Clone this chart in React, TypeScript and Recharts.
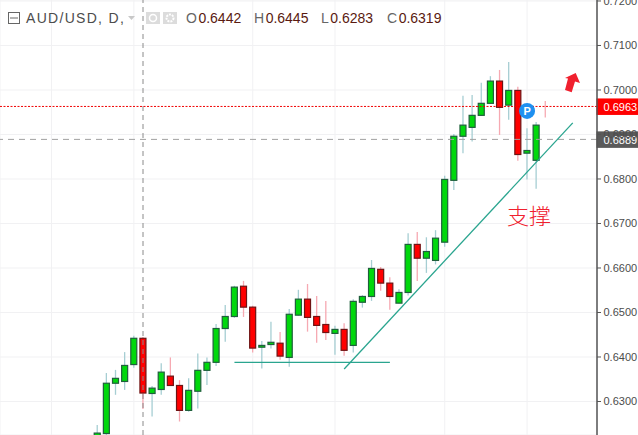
import { ComposedChart, Bar, XAxis, YAxis, CartesianGrid, ReferenceLine, ReferenceDot } from 'recharts';

const opens = [0.6215, 0.6228, 0.6341, 0.6345, 0.6383, 0.6442, 0.6318, 0.6327, 0.6357, 0.6336, 0.628, 0.6323, 0.637, 0.6388, 0.6464, 0.6491, 0.6559, 0.6512, 0.6422, 0.6428, 0.6431, 0.6399, 0.6494, 0.653, 0.6491, 0.6473, 0.6453, 0.6462, 0.6426, 0.6523, 0.6536, 0.6597, 0.6566, 0.6521, 0.6545, 0.6653, 0.6622, 0.6617, 0.6658, 0.6797, 0.6896, 0.6916, 0.6943, 0.697, 0.702, 0.6966, 0.6999, 0.6858, 0.6842, 0.6963];
const highs = [0.6247, 0.6364, 0.6371, 0.6411, 0.6448, 0.6445, 0.6335, 0.6386, 0.6399, 0.6348, 0.6352, 0.6408, 0.6399, 0.6474, 0.6517, 0.656, 0.6571, 0.6515, 0.6436, 0.6479, 0.6456, 0.6508, 0.6551, 0.6564, 0.6537, 0.6526, 0.647, 0.6476, 0.653, 0.6539, 0.6618, 0.6602, 0.6579, 0.6552, 0.6678, 0.6681, 0.6669, 0.6685, 0.6807, 0.6901, 0.6987, 0.6989, 0.7016, 0.7031, 0.7045, 0.7063, 0.7007, 0.6914, 0.6928, 0.6975];
const lows = [0.621, 0.6222, 0.6315, 0.6326, 0.6376, 0.6283, 0.6266, 0.6315, 0.6335, 0.6255, 0.6277, 0.6284, 0.6337, 0.638, 0.6434, 0.6488, 0.649, 0.641, 0.6374, 0.6419, 0.6394, 0.6378, 0.6493, 0.6457, 0.6432, 0.6438, 0.6405, 0.6403, 0.641, 0.6511, 0.6526, 0.6549, 0.6506, 0.652, 0.6538, 0.6571, 0.6589, 0.6608, 0.6648, 0.6775, 0.6858, 0.6884, 0.6942, 0.6969, 0.6899, 0.6933, 0.6841, 0.6799, 0.6778, 0.6938];
const closes = [0.6229, 0.6341, 0.6352, 0.6381, 0.6442, 0.6319, 0.633, 0.6366, 0.6336, 0.628, 0.6325, 0.637, 0.6388, 0.6464, 0.6491, 0.6557, 0.6512, 0.642, 0.6426, 0.6433, 0.6402, 0.6496, 0.653, 0.6489, 0.6471, 0.6455, 0.6462, 0.6415, 0.6525, 0.6536, 0.6599, 0.6566, 0.6536, 0.6545, 0.6653, 0.6622, 0.6637, 0.6667, 0.6799, 0.6896, 0.6921, 0.6943, 0.697, 0.702, 0.6961, 0.6999, 0.6855, 0.6864, 0.6921, 0.6963];

const priceTicks = [0.63, 0.64, 0.65, 0.66, 0.67, 0.68, 0.69, 0.7, 0.71, 0.72];
const timeTicks = [-5, 4, 17, 26, 38, 47];

const chartData = opens.map((open, i) => ({
  idx: i,
  open,
  close: closes[i],
  range: [lows[i], highs[i]],
}));

const TEXT = '#4c4c4c';
const UP_FILL = '#00d80c';
const UP_BORDER = '#1f5f3c';
const UP_WICK = '#a6ced3';
const DOWN_FILL = '#ff0000';
const DOWN_BORDER = '#6e1414';
const DOWN_WICK = '#f6a9b2';
const TEAL = '#2aa58f';
const ARROW_RED = '#f0202e';

// bar is drawn over low..high, body gets worked out from the same pixels
const Candle = (props: any) => {
  const { x, y, width, height, payload } = props;
  const [low, high] = payload.range;
  const perUnit = height / (high - low);
  const cx = x + width / 2;
  const up = payload.close > payload.open;
  const top = y + (high - Math.max(payload.open, payload.close)) * perUnit;
  const bottom = y + (high - Math.min(payload.open, payload.close)) * perUnit;
  const isDoji = payload.open === payload.close;
  return (
    <g>
      <line x1={cx} x2={cx} y1={y} y2={y + height} stroke={up ? UP_WICK : DOWN_WICK} strokeWidth={1.3} />
      {!isDoji && (
        <rect
          x={cx - 3}
          y={top}
          width={6}
          height={Math.max(bottom - top, 1)}
          fill={up ? UP_FILL : DOWN_FILL}
          stroke={up ? UP_BORDER : DOWN_BORDER}
          strokeWidth={1.2}
        />
      )}
    </g>
  );
};

const PriceTick = ({ x, y, payload }: any) => (
  <g>
    <line x1={x - 8} x2={x - 4} y1={y} y2={y} stroke="#555" />
    <text x={x - 1.5} y={y + 4} fontSize={11} fontFamily="Liberation Sans" fill={TEXT}>
      {payload.value.toFixed(4)}
    </text>
  </g>
);

const priceTag = (value: string, bg: string) => ({ viewBox }: any) => {
  const right = viewBox.x + viewBox.width;
  const mid = viewBox.y;
  return (
    <g>
      <rect x={right - 0.5} y={mid - 8} width={41.5} height={16.5} fill={bg} />
      <text x={right + 6.5} y={mid + 4.5} fontSize={11} fontFamily="Liberation Sans" fill="#fff">
        {value}
      </text>
    </g>
  );
};

const ohlcItems: [string, string, number][] = [
  ['O', '0.6442', 186],
  ['H', '0.6445', 254],
  ['L', '0.6283', 321],
  ['C', '0.6319', 387],
];

const Legend = () => (
  <div style={{ position: 'absolute', left: 0, top: 0, width: 450, height: 36, fontFamily: 'Liberation Sans', fontSize: 14, color: TEXT }}>
    <svg width={180} height={36} style={{ position: 'absolute', left: 0, top: 0 }}>
      <rect x={8.5} y={12.5} width={11} height={11} fill="none" stroke="#666" />
      <line x1={10} x2={18} y1={18} y2={18} stroke="#666" />
      <path d="M128 16 L135 16 L131.5 20 Z" fill="#c8c8c8" />
      <rect x={146} y={12} width={14} height={12} fill="#dcdcdc" />
      <circle cx={153} cy={18} r={3.5} fill="none" stroke="#fff" strokeWidth={1.5} />
      <rect x={163} y={12} width={14} height={12} fill="#dcdcdc" />
      <circle cx={170} cy={18} r={3.5} fill="none" stroke="#fff" strokeWidth={2} strokeDasharray="2 1" />
    </svg>
    <span style={{ position: 'absolute', left: 26, top: 10, letterSpacing: 1.3, whiteSpace: 'nowrap' }}>AUD/USD, D,</span>
    {ohlcItems.map(([name, value, left]) => (
      <span key={name} style={{ position: 'absolute', left, top: 10, whiteSpace: 'nowrap' }}>
        <span style={{ color: '#666' }}>{name}</span>
        <span style={{ color: '#5a1a10', marginLeft: 1.5 }}>{value}</span>
      </span>
    ))}
  </div>
);

export default function App() {
  return (
    <div style={{ position: 'absolute', left: 0, top: 0, width: 638, height: 435, overflow: 'hidden', background: '#fff' }}>
      <ComposedChart width={638} height={435} data={chartData} margin={{ top: 0, right: 0, bottom: 0, left: 0 }}>
        <CartesianGrid stroke="#f1f1f3" />
        <XAxis dataKey="idx" type="number" domain={[-10.64, 54.65]} ticks={timeTicks} hide allowDataOverflow />
        <YAxis
          orientation="right"
          width={41}
          domain={[0.62247, 0.72022]}
          ticks={priceTicks}
          allowDataOverflow
          interval={0}
          stroke="#555"
          tickLine={false}
          tick={<PriceTick />}
          axisLine={{ stroke: '#555', strokeWidth: 1.5 }}
        />
        <ReferenceLine x={5} stroke="#8a8a8a" strokeDasharray="5 4" />
        <Bar dataKey="range" barSize={7} shape={<Candle />} isAnimationActive={false} />
        <ReferenceLine y={0.6889} stroke="#a0a0a0" strokeDasharray="6 5" label={priceTag('0.6889', '#5a5a5a')} />
        <ReferenceLine y={0.6963} stroke="#f00000" strokeDasharray="2 1.5" label={priceTag('0.6963', '#ff0000')} />
        <ReferenceLine segment={[{ x: 15, y: 0.6388 }, { x: 32, y: 0.6388 }]} stroke={TEAL} strokeWidth={1.3} />
        <ReferenceLine segment={[{ x: 27, y: 0.6373 }, { x: 52, y: 0.6926 }]} stroke={TEAL} strokeWidth={1.3} />
        <ReferenceDot
          x={47}
          y={0.6953}
          r={8}
          fill="#1e90f0"
          stroke="none"
          label={{ value: 'P', position: 'center', fill: '#fff', fontSize: 11, fontWeight: 'bold', fontFamily: 'Liberation Sans' }}
        />
      </ComposedChart>
      <Legend />
      <svg width={638} height={435} style={{ position: 'absolute', left: 0, top: 0, pointerEvents: 'none' }}>
        <path d="M575.7 73 L580 83 L575 81.5 L571.7 92.3 L565 90 L568 78.5 L565 78 Z" fill={ARROW_RED} />
      </svg>
      <span style={{ position: 'absolute', left: 507, top: 198, fontFamily: 'Noto Sans CJK SC', fontSize: 22, color: ARROW_RED, fontWeight: 300 }}>
        支撑
      </span>
    </div>
  );
}
